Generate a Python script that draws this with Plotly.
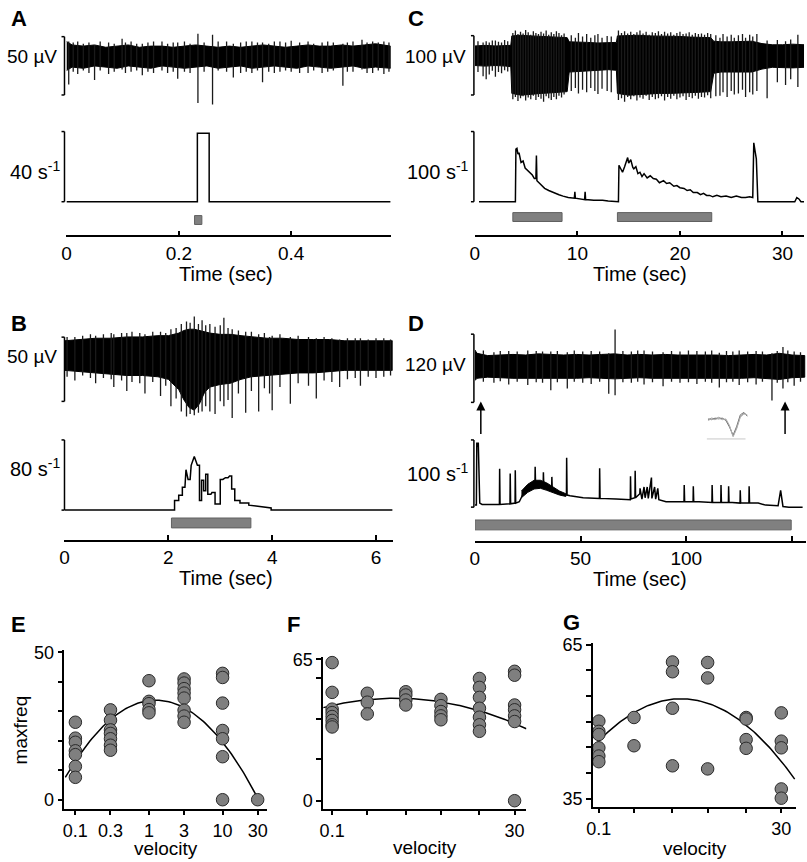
import numpy as np
import plotly.graph_objects as go

W, H = 807, 862
FONT = "Arial, 'Liberation Sans', Helvetica, sans-serif"


def fx(x):
    return x / W


def fy(y):
    return 1 - y / H


# ======================= DATA =======================
# ---- Panel A (time in s, trace in uV, rate in 1/s) ----
A_env_t = [0, 0.01, 0.03, 0.05, 0.07, 0.09, 0.11, 0.13, 0.15, 0.17, 0.19, 0.21, 0.23, 0.25, 0.27,
           0.29, 0.31, 0.33, 0.35, 0.37, 0.39, 0.41, 0.43, 0.45, 0.47, 0.49, 0.51, 0.53, 0.55, 0.577]
A_env_up = [12, 9, 8, 9, 7, 8, 9, 7, 8, 8, 7, 8, 9, 8, 7, 8, 7, 8, 9, 8, 7, 8, 9, 8, 8, 9, 8, 9, 10, 8]
A_env_lo = [-13, -10, -11, -9, -10, -11, -9, -10, -11, -9, -10, -11, -10, -9, -11, -10, -9, -11,
            -10, -9, -10, -11, -9, -10, -11, -10, -9, -11, -10, -11]
A_spk_t = [0.004, 0.012, 0.02, 0.03, 0.04, 0.05, 0.06, 0.075, 0.085, 0.099, 0.105, 0.115, 0.125,
           0.135, 0.145, 0.155, 0.17, 0.18, 0.19, 0.198, 0.21, 0.22, 0.234, 0.245, 0.26, 0.27,
           0.285, 0.297, 0.31, 0.32, 0.33, 0.34, 0.349, 0.36, 0.37, 0.38, 0.39, 0.40, 0.415, 0.43,
           0.44, 0.455, 0.465, 0.475, 0.492, 0.50, 0.51, 0.526, 0.535, 0.545, 0.555, 0.565, 0.574]
A_spk_lo = [-25, -14, -16, -13, -15, -21, -13, -16, -14, -12, -15, -14, -13,
            -17, -14, -15, -13, -15, -14, -20, -14, -15, -40.7, -14, -42, -13,
            -14, -19, -15, -14, -15, -13, -23, -14, -15, -14, -13, -14, -15, -15,
            -13, -15, -14, -13, -26, -14, -14, -12, -15, -15, -13, -16, -14]
A_spk_hi = [12, 11, 12, 10, 11, 9, 12, 11, 10, 14.4, 11, 12, 10,
            10, 11, 12, 12, 10, 11, 11, 12, 10, 18.6, 11, 17.8, 12,
            12, 10, 11, 12, 12, 11, 11, 10, 12, 12, 11, 12.5, 11, 12,
            10, 11, 12, 11, 10, 11, 12, 13.5, 11, 12, 11, 12, 11]
A_rate_t = [0, 0.233, 0.233, 0.254, 0.254, 0.577]
A_rate_r = [0, 0, 39, 39, 0, 0]
A_stim_on = [0.228]
A_stim_off = [0.241]
A_tickvals = [0, 0.2, 0.4]
A_ticktext = ["0", "0.2", "0.4"]

# ---- Panel B ----
B_env_t = [0, 0.3, 0.6, 0.9, 1.2, 1.5, 1.8, 2.0, 2.2, 2.3, 2.4, 2.5, 2.6, 2.7, 2.8, 3.0, 3.2, 3.4,
           3.6, 3.9, 4.2, 4.5, 4.8, 5.1, 5.4, 5.7, 6.0, 6.32]
B_env_up = [11, 12, 13, 13, 14, 14, 15, 15, 17, 19, 20, 20, 19, 18, 17, 16, 16, 15, 14, 13, 13, 12,
            12, 12, 11, 11, 11, 11]
B_env_lo = [-12, -13, -14, -15, -16, -16, -17, -19, -27, -35, -41, -43, -38, -29, -25, -23, -22, -19,
            -17, -16, -15, -14, -14, -13, -12, -12, -12, -12]
B_spk_t = [0.05, 0.2, 0.35, 0.5, 0.6, 0.75, 0.9, 0.95, 1.1, 1.2, 1.3, 1.45, 1.55, 1.7, 1.85, 1.95,
           2.05, 2.15, 2.25, 2.35, 2.42, 2.5, 2.58, 2.65, 2.72, 2.8, 2.9, 3.0, 3.07, 3.15, 3.23,
           3.35, 3.49, 3.6, 3.74, 3.85, 3.95, 4.0, 4.15, 4.35, 4.5, 4.7, 4.85, 5.0, 5.15, 5.3,
           5.45, 5.6, 5.7, 5.85, 6.0, 6.15, 6.28]
B_spk_lo = [-17, -20, -16, -18, -22, -18, -19, -25, -20, -28, -21, -22, -30, -21, -32, -24,
            -40, -34, -44, -48, -46, -47, -45, -44, -40, -44, -46, -36, -40, -35, -49,
            -30, -45, -28, -44, -26, -30, -43, -25, -38, -22, -24, -34, -20, -21, -25,
            -19, -18, -24, -17, -18, -17, -16]
B_spk_hi = [14, 14, 15, 16, 15, 16, 17, 16, 17, 17, 18, 17, 16, 18, 18, 17,
            20, 21, 24, 26, 25, 30, 24, 27, 23, 24, 22, 23, 29, 21, 20,
            19, 18, 18, 16, 17, 14, 15, 16, 14, 15, 14, 13, 14, 13, 12,
            13, 13, 13, 12, 13, 13, 12]
B_rate_t = [0, 2.12, 2.12, 2.2, 2.2, 2.27, 2.27, 2.32, 2.34, 2.38, 2.42, 2.44, 2.5, 2.56, 2.6, 2.6,
            2.64, 2.64, 2.68, 2.68, 2.72, 2.72, 2.76, 2.76, 2.82, 2.84, 2.9, 2.9, 3.0, 3.0, 3.05,
            3.1, 3.15, 3.18, 3.22, 3.22, 3.28, 3.28, 3.38, 3.38, 3.55, 3.55, 3.98, 3.98, 6.32]
B_rate_r = [0, 0, 11, 11, 17, 17, 26, 26, 46, 35, 35, 51, 61, 51, 51, 11,
            11, 34, 34, 22, 22, 41, 41, 18, 18, 20, 20, 7, 7, 35, 35,
            37, 37, 39, 39, 24, 24, 11, 11, 8, 8, 5.6, 2.5, 0, 0]
B_stim_on = [2.06]
B_stim_off = [3.59]
B_tickvals = [0, 2, 4, 6]
B_ticktext = ["0", "2", "4", "6"]

# ---- Panel C ----
C_env_t = [0, 1, 2, 3, 3.5, 3.6, 4.5, 5.5, 6.5, 7.5, 8.5, 9.0, 9.2, 10, 11, 12, 13, 13.8, 13.9, 15,
           16, 17, 18, 19, 20, 21, 22, 23, 23.3, 24, 25, 26, 27, 28, 29, 30, 31, 32.1]
C_env_up = [16, 17, 16, 17, 17, 33, 34, 33, 32, 31, 31, 30, 23, 22, 22, 21, 21, 22, 33, 34,
            34, 33, 33, 32, 32, 31, 31, 30, 24, 23, 23, 23, 24, 20, 18, 18, 19, 18]
C_env_lo = [-17, -18, -17, -18, -19, -64, -67, -65, -64, -63, -62, -61, -28, -26, -25, -25, -24, -25,
            -64, -67, -65, -65, -64, -64, -63, -63, -62, -61, -30, -28, -28, -28, -28, -23, -20, -20,
            -21, -20]
C_spk_t = [0.3, 0.8, 1.1, 1.4, 1.7, 2.0, 2.3, 2.6, 2.9, 3.2,
           3.7, 3.95, 4.2, 4.45, 4.7, 4.95, 5.2, 5.45, 5.7, 5.95, 6.2, 6.45, 6.7, 6.95, 7.2, 7.45,
           7.7, 7.95, 8.2, 8.45, 8.7,
           9.4, 9.8, 10.1, 10.5, 10.9, 11.3, 11.7, 12.0, 12.4, 12.9, 13.3,
           14.0, 14.3, 14.6, 14.9, 15.2, 15.5, 15.8, 16.1, 16.4, 16.7, 17.0, 17.3, 17.6, 17.9,
           18.2, 18.5, 18.8, 19.1, 19.4, 19.7, 20.0, 20.3, 20.6, 20.9, 21.2, 21.5, 21.8, 22.1,
           22.4, 22.7, 23.0,
           23.5, 23.9, 24.2, 24.6, 25.0, 25.3, 25.7, 26.1, 26.4, 26.8, 27.1, 27.5, 28.5, 29.5,
           30.3, 30.8, 31.5]
C_spk_lo = [-28, -35, -40, -32, -26, -36, -28, -30, -25, -27,
            -74, -70, -77, -72, -69, -76, -71, -74, -68, -75, -70, -73, -78, -69, -72, -75,
            -70, -74, -68, -71, -66,
            -60, -55, -64, -58, -62, -55, -60, -65, -56, -60, -62,
            -75, -72, -78, -70, -74, -69, -76, -71, -73, -68, -75, -70, -74, -72, -69,
            -76, -70, -73, -68, -74, -71, -69, -75, -70, -72, -68, -73, -70, -71,
            -67, -72, -69,
            -68, -62, -70, -60, -66, -64, -58, -70, -62, -66, -60, -72, -45, -50,
            -40, -53, -50]
C_spk_hi = [24, 22, 24, 22, 25, 25, 23, 22, 26, 24,
            38, 42, 36, 40, 37, 43, 39, 35, 41, 38, 36, 40, 37, 42, 35, 39,
            36, 41, 38, 34, 37,
            34, 30, 38, 32, 36, 30, 34, 36, 30, 33, 32,
            42, 38, 41, 37, 40, 36, 39, 42, 37, 40, 35, 39, 38, 41,
            36, 40, 37, 39, 35, 38, 40, 36, 37, 39, 35, 38, 36, 37,
            35, 38, 36,
            34, 30, 36, 32, 35, 30, 34, 36, 30, 35, 32, 36, 25, 26,
            24, 27, 35]
C_rate_t = [0.4, 3.95, 4.0, 4.1, 4.2, 4.3, 4.5, 4.7, 4.9, 5.2, 5.4, 5.6, 5.8, 5.95, 6.0, 6.05, 6.4,
            6.8, 7.2, 7.5, 7.8, 8.2, 8.6, 9.1, 9.7, 9.75, 9.8, 10.7, 10.75, 10.8, 11.6, 12.4, 12.45,
            13, 13.9, 14.0, 14.05, 14.3, 14.4, 14.6, 14.8, 14.9, 15.0, 15.2, 15.4, 15.5, 15.7, 15.9,
            16.1, 16.3, 16.5, 16.8, 17.1, 17.4, 17.7, 18.0, 18.4, 18.7, 19.0, 19.4, 19.7, 20.0,
            20.4, 20.7, 21.0, 21.3, 21.7, 22.0, 22.3, 22.6, 22.9, 23.2, 23.6, 24.0, 24.5, 25.0,
            25.5, 26.0, 26.4, 26.8, 27.1, 27.2, 27.35, 27.45, 27.6, 31.2, 31.4, 31.6, 31.8, 32.1]
C_rate_r = [0, 0, 75, 76, 68, 70, 56, 58, 48, 44, 40, 38, 33, 33, 66, 30, 25,
            19, 16, 14, 12, 10, 8, 6, 5, 14, 5, 3, 14, 3, 2, 3, 2,
            1, 0, 0, 52, 45, 42, 50, 58, 63, 55, 60, 49, 47, 50, 40,
            42, 36, 40, 34, 37, 33, 32, 27, 30, 26, 27, 22, 23, 20,
            19, 16, 17, 13, 13, 10, 12, 9, 9, 7, 9, 7, 8, 6,
            8, 6, 6, 7, 6, 84, 70, 61, 0, 0, 6, 4, 0, 0]
C_stim_on = [3.7, 13.9]
C_stim_off = [8.5, 23.1]
C_tickvals = [0, 10, 20, 30]
C_ticktext = ["0", "10", "20", "30"]

# ---- Panel D ----
D_env_t = [0, 1, 6, 12, 18, 24, 30, 36, 42, 48, 54, 60, 66, 72, 78, 84, 90, 96, 102, 108, 114,
           120, 126, 132, 138, 144, 150, 156]
D_env_up = [28, 22, 18, 19, 20, 19, 21, 20, 19, 20, 19, 20, 21, 19, 20, 19, 20, 19, 19, 20, 19,
            18, 19, 20, 19, 22, 19, 18]
D_env_lo = [-26, -22, -20, -21, -22, -23, -22, -23, -22, -22, -21, -22, -23, -22, -21, -22, -23,
            -22, -23, -22, -23, -22, -22, -21, -22, -24, -21, -20]
D_spk_t = [4, 9, 12, 16, 20, 25, 29, 32, 35.9, 39, 43.7, 47, 51, 55, 59, 63.3, 66.3, 70, 74, 77,
           80, 84, 89, 93, 97, 101, 105, 109, 112, 115.6, 119, 122, 125, 129, 133, 136, 140.5,
           143, 145.7, 148, 151, 154]
D_spk_lo = [-28, -30, -27, -33, -28, -34, -29, -30, -43, -29, -40, -28, -30, -32, -28, -49, -52,
            -29, -30, -28, -33, -29, -36, -28, -30, -29, -32, -28, -30, -38, -29, -28, -34, -29,
            -33, -28, -61, -30, -40, -29, -35, -28]
D_spk_hi = [27, 24, 26, 26, 25, 27, 26, 25, 25, 26, 24, 27, 25, 26, 25, 22, 64, 26, 25, 27,
            27, 25, 24, 26, 25, 27, 26, 25, 27, 23, 26, 25, 27, 25, 26, 25, 22, 26, 33, 27,
            25, 24]
D_rate_t = [0, 0.7, 0.9, 1.4, 1.6, 2.3, 3.4, 6, 8, 10.5, 11.6, 11.7, 11.9, 16.6, 16.7, 16.9, 19.0,
            19.1, 19.3, 21, 23, 24.6, 26, 28.4, 28.5, 28.7, 30, 32.3, 32.4, 32.6, 34, 36.3, 36.4,
            36.6, 38.7, 41, 43.3, 43.4, 43.6, 45, 51.2, 58.9, 59, 59.2, 66.8, 73, 73.5, 73.6, 73.8,
            75.7, 75.8, 76, 78, 78.1, 79, 80, 80.5, 81.5, 82, 83.5, 83.7, 85, 85.5, 86.5, 87, 88.8,
            90.4, 96, 98.9, 99, 99.2, 103.2, 103.3, 103.5, 106, 112.1, 112.2, 112.4, 116.3, 116.4,
            116.6, 119.9, 120, 120.2, 121.7, 125.4, 125.5, 125.7, 129.6, 129.7, 129.9, 134, 137.5,
            143.4, 144.6, 145.7, 148.5, 155]
D_rate_r = [3, 3, 96, 90, 96, 6, 4, 4, 3, 4, 4, 57, 4, 5, 50, 5, 6,
            55, 6, 8, 21, 28, 30, 32, 60, 33, 34, 31, 52, 30, 28, 26, 45,
            26, 21, 19, 18, 73.5, 18, 17, 14, 13, 58, 13, 12, 11, 11, 46, 12,
            14, 54, 14, 20, 28, 12, 30, 14, 30, 13, 44, 13, 30, 12, 28, 11, 10,
            8, 8, 8, 33, 8, 8, 31, 8, 8, 7, 33, 7, 7, 33,
            7, 7, 31, 7, 7, 6, 25, 6, 6, 31, 6, 6, 3,
            2, 25, 1, 0, 0]
D_rband_t = [22, 25, 28, 31, 34, 37, 40, 43]
D_rband_hi = [24, 34, 40, 40, 36, 30, 24, 20]
D_rband_lo = [14, 22, 27, 28, 25, 22, 18, 16]
D_stim_on = [0]
D_stim_off = [149.6]
D_tickvals = [0, 50, 100, 150]
D_ticktext = ["0", "50", "100", "150"]
D_arrow_t = [2.8, 146.7]
D_wave_1 = [0, 2, 1, 3, 1, 0, -8, -20, -10, 4, 8, 5]
D_wave_2 = [1, 0, 2, 1, 2, -1, -9, -19, -8, 6, 9, 4]
D_wave_3 = [-1, 1, 0, 2, 0, 1, -7, -21, -11, 3, 7, 6]

# ---- Panels E, F, G (velocity vs maxfreq) ----
velocities = [0.1, 0.3, 1, 3, 10, 30]
E_vals = [[26.3, 20.9, 19.5, 16.6, 15.3, 11.3, 7.6],
          [30.5, 27.0, 23.7, 22.5, 20.7, 18.5, 16.8],
          [40.4, 33.4, 32.6, 30.6, 29.5],
          [41.0, 39.6, 37.7, 36.2, 34.5, 30.4, 28.4, 26.3],
          [42.9, 41.5, 32.8, 23.5, 20.7, 14.6, 0],
          [0]]
F_vals = [[63.5, 49.8, 42.1, 40.5, 38.7, 36.9, 34.9, 33.9],
          [49.4, 45.3, 39.9],
          [50.1, 48.6, 46.3, 44.0],
          [66.8, 46.6, 43.7, 41.0, 39.0, 37.2],
          [56.2, 52.1, 47.5, 42.5, 38.4, 34.9, 31.9],
          [59.5, 57.7, 44.0, 41.8, 39.0, 36.4, 0]]
G_vals = [[50.1, 48.1, 47.5, 44.9, 43.3, 42.2],
          [50.8, 45.3],
          [61.6, 59.7, 52.6, 41.4],
          [61.5, 58.5, 40.8],
          [50.8, 50.5, 46.5, 44.8],
          [51.7, 46.2, 44.9, 36.9, 35.1]]
# quadratic fit in log10(velocity): a*L^2 + b*L + c, drawn over [L0, L1]
E_fit = [-17.32, 3.22, 33.65, -1.137, 1.52]
F_fit = [-4.451, -1.219, 47.03, -1.121, 1.637]
G_fit = [-6.561, 1.515, 54.35, -1.09, 1.659]

# ======================= FIGURE =======================
fig = go.Figure()
layout = {}
shapes = []
annotations = []


def ann(text, x, y, size=20, xanchor="center", yanchor="middle", bold=False, **kw):
    if bold:
        text = "<b>" + text + "</b>"
    annotations.append(dict(text=text, x=fx(x), y=fy(y), xref="paper", yref="paper",
                            showarrow=False, xanchor=xanchor, yanchor=yanchor,
                            font=dict(family=FONT, size=size, color="black"), **kw))


def scalebar(x, y0, y1, hook=3):
    for (xa, ya, xb, yb) in [(x, y0, x, y1), (x - hook, y0, x, y0), (x - hook, y1, x, y1)]:
        shapes.append(dict(type="line", xref="paper", yref="paper", x0=fx(xa), y0=fy(ya),
                           x1=fx(xb), y1=fy(yb), line=dict(color="black", width=1.5)))


def rec_panel(n, P):
    xt, yt = ("x%d" % n, "y%d" % n)
    xr, yr = ("x%d" % (n + 1), "y%d" % (n + 1))
    xdom = [fx(P["xl"]), fx(P["xr"])]
    rng = [0, P["xmax"]]
    c, s = P["tc"], P["ts"]
    layout["xaxis%d" % n] = dict(domain=xdom, range=rng, visible=False, anchor=yt)
    layout["yaxis%d" % n] = dict(domain=[fy(P["tb"]), fy(P["tt"])],
                                 range=[(c - P["tb"]) / s, (c - P["tt"]) / s],
                                 visible=False, anchor=xt)
    b, rs = P["rbase"], P["rs"]
    layout["xaxis%d" % (n + 1)] = dict(domain=xdom, range=rng, anchor="free",
                                       position=fy(P["axy"]), showline=True, linecolor="black",
                                       linewidth=1.5, ticks="inside", ticklen=5, tickwidth=1.5,
                                       tickcolor="black", tickvals=P["tickvals"],
                                       ticktext=P["ticktext"], showgrid=False, zeroline=False,
                                       tickfont=dict(family=FONT, size=19, color="black"))
    layout["yaxis%d" % (n + 1)] = dict(domain=[fy(P["rb"]), fy(P["rt"])],
                                       range=[(b - P["rb"]) / rs, (b - P["rt"]) / rs],
                                       visible=False, anchor=xr)
    t = list(P["env_t"])
    fig.add_trace(go.Scatter(x=t + t[::-1], y=list(P["env_up"]) + list(P["env_lo"])[::-1],
                             fill="toself", fillcolor="black", mode="lines",
                             line=dict(color="black", width=1), xaxis=xt, yaxis=yt,
                             hoverinfo="skip", showlegend=False))
    xs, ys = [], []
    for tt, lo, hi in zip(P["spk_t"], P["spk_lo"], P["spk_hi"]):
        xs += [tt, tt, None]
        ys += [lo, hi, None]
    fig.add_trace(go.Scatter(x=xs, y=ys, mode="lines", line=dict(color="#1a1a1a", width=1.3),
                             xaxis=xt, yaxis=yt, hoverinfo="skip", showlegend=False))
    fig.add_trace(go.Scatter(x=P["rate_t"], y=P["rate_r"], mode="lines",
                             line=dict(color="black", width=1.5), xaxis=xr, yaxis=yr,
                             hoverinfo="skip", showlegend=False))
    for on, off in zip(P["stim_on"], P["stim_off"]):
        shapes.append(dict(type="rect", xref=xr, yref="paper", x0=on, x1=off,
                           y0=fy(P["sb"][1]), y1=fy(P["sb"][0]), fillcolor="#808080",
                           line=dict(color="#606060", width=1)))
    scalebar(P["bar_x"], *P["tbar"])
    scalebar(P["bar_x"], *P["rbar"])


rec_panel(1, dict(xl=61, xr=388, xmax=0.577, tt=15, tb=108, tc=48, ts=1.18,
                  rt=118, rb=202, rbase=196, rs=1.775, axy=231,
                  tickvals=A_tickvals, ticktext=A_ticktext,
                  env_t=A_env_t, env_up=A_env_up, env_lo=A_env_lo,
                  spk_t=A_spk_t, spk_lo=A_spk_lo, spk_hi=A_spk_hi,
                  rate_t=A_rate_t, rate_r=A_rate_r, stim_on=A_stim_on, stim_off=A_stim_off,
                  sb=(210, 219), bar_x=59, tbar=(29, 88), rbar=(125, 196)))
rec_panel(3, dict(xl=59, xr=390, xmax=6.32, tt=303, tb=422, tc=351, ts=1.3,
                  rt=430, rb=512, rbase=508, rs=0.8875, axy=539,
                  tickvals=B_tickvals, ticktext=B_ticktext,
                  env_t=B_env_t, env_up=B_env_up, env_lo=B_env_lo,
                  spk_t=B_spk_t, spk_lo=B_spk_lo, spk_hi=B_spk_hi,
                  rate_t=B_rate_t, rate_r=B_rate_r, stim_on=B_stim_on, stim_off=B_stim_off,
                  sb=(516, 526), bar_x=59, tbar=(333, 398), rbar=(437, 508)))
rec_panel(5, dict(xl=473, xr=805, xmax=32.1, tt=15, tb=108, tc=48, ts=0.6,
                  rt=118, rb=202, rbase=196, rs=0.71, axy=231,
                  tickvals=C_tickvals, ticktext=C_ticktext,
                  env_t=C_env_t, env_up=C_env_up, env_lo=C_env_lo,
                  spk_t=C_spk_t, spk_lo=C_spk_lo, spk_hi=C_spk_hi,
                  rate_t=C_rate_t, rate_r=C_rate_r, stim_on=C_stim_on, stim_off=C_stim_off,
                  sb=(207, 216), bar_x=472, tbar=(28, 88), rbar=(125, 196)))
rec_panel(7, dict(xl=473, xr=807, xmax=156.6, tt=312, tb=405, tc=362, ts=0.575,
                  rt=430, rb=510, rbase=505, rs=0.68, axy=540,
                  tickvals=D_tickvals, ticktext=D_ticktext,
                  env_t=D_env_t, env_up=D_env_up, env_lo=D_env_lo,
                  spk_t=D_spk_t, spk_lo=D_spk_lo, spk_hi=D_spk_hi,
                  rate_t=D_rate_t, rate_r=D_rate_r, stim_on=D_stim_on, stim_off=D_stim_off,
                  sb=(518, 528), bar_x=472, tbar=(330, 399), rbar=(437, 505)))

fig.add_trace(go.Scatter(x=D_rband_t + D_rband_t[::-1], y=D_rband_hi + D_rband_lo[::-1],
                         fill="toself", fillcolor="black", mode="lines",
                         line=dict(color="black", width=1), xaxis="x8", yaxis="y8",
                         hoverinfo="skip", showlegend=False))
for t in D_arrow_t:
    annotations.append(dict(x=t, y=fy(398), xref="x8", yref="paper", ax=0, ay=34,
                            axref="pixel", ayref="pixel", showarrow=True, arrowhead=2,
                            arrowsize=1.2, arrowwidth=1.5, arrowcolor="black", text=""))
layout["xaxis12"] = dict(domain=[fx(708), fx(748)], range=[0, 11], visible=False, anchor="y12")
layout["yaxis12"] = dict(domain=[fy(438), fy(405)], range=[-26, 14], visible=False, anchor="x12")
for w, col in [(D_wave_1, "#9a9a9a"), (D_wave_2, "#777777"), (D_wave_3, "#b0b0b0")]:
    fig.add_trace(go.Scatter(x=list(range(len(w))), y=w, mode="lines",
                             line=dict(color=col, width=1), xaxis="x12", yaxis="y12",
                             hoverinfo="skip", showlegend=False))
shapes.append(dict(type="line", xref="paper", yref="paper", x0=fx(707), x1=fx(746),
                   y0=fy(436), y1=fy(436), line=dict(color="#c8c8c8", width=1)))


def scat_panel(n, vals, fit, xdom, xr, ydom, yr, ytickvals, yticktext, xtickvals, xticktext):
    xa, ya = "x%d" % n, "y%d" % n
    ax_common = dict(showline=True, linecolor="black", linewidth=1.5, ticks="outside",
                     ticklen=5, tickwidth=1.5, tickcolor="black", showgrid=False,
                     zeroline=False, tickfont=dict(family=FONT, size=18, color="black"))
    layout["xaxis%d" % n] = dict(domain=[fx(xdom[0]), fx(xdom[1])], type="log", range=xr,
                                 anchor=ya, tickvals=xtickvals, ticktext=xticktext, **ax_common)
    layout["yaxis%d" % n] = dict(domain=[fy(ydom[1]), fy(ydom[0])], range=yr, anchor=xa,
                                 tickvals=ytickvals, ticktext=yticktext, **ax_common)
    xs, ys = [], []
    for v, group in zip(velocities, vals):
        xs += [v] * len(group)
        ys += group
    a, b, c, L0, L1 = fit
    L = np.linspace(L0, L1, 120)
    fig.add_trace(go.Scatter(x=10 ** L, y=a * L ** 2 + b * L + c, mode="lines",
                             line=dict(color="black", width=1.5), xaxis=xa, yaxis=ya,
                             hoverinfo="skip", showlegend=False, cliponaxis=False))
    fig.add_trace(go.Scatter(x=xs, y=ys, mode="markers", cliponaxis=False,
                             marker=dict(size=12.5, color="#7f7f7f",
                                         line=dict(color="#2a2a2a", width=1)),
                             xaxis=xa, yaxis=ya, hoverinfo="skip", showlegend=False))


vel_text_all = ["0.1", "0.3", "1", "3", "10", "30"]
vel_text_ends = ["0.1", "", "", "", "", "30"]
scat_panel(9, E_vals, E_fit, (59, 263), [-1.148, 1.60], (650, 810), [-3.02, 50.67],
           [0, 10, 20, 30, 40, 50], ["0", "", "", "", "", "50"], velocities, vel_text_all)
scat_panel(10, F_vals, F_fit, (320, 525), [-1.121, 1.638], (657, 810), [-3.64, 65.9],
           [0, 19.1, 37.7, 56.4, 65], ["0", "", "", "", "65"], velocities, vel_text_ends)
scat_panel(11, G_vals, G_fit, (592, 797), [-1.081, 1.678], (642, 808), [33.46, 65.38],
           [35, 40, 45, 50, 55, 60, 65], ["35", "", "", "", "", "", "65"], velocities,
           vel_text_ends)

ann("A", 3, 11, size=22, xanchor="left", bold=True)
ann("B", 3, 319, size=22, xanchor="left", bold=True)
ann("C", 403, 11, size=22, xanchor="left", bold=True)
ann("D", 403, 319, size=22, xanchor="left", bold=True)
ann("E", 3, 624, size=22, xanchor="left", bold=True)
ann("F", 281, 624, size=22, xanchor="left", bold=True)
ann("G", 560, 622, size=22, xanchor="left", bold=True)

ann("50 µV", 53, 49, size=19, xanchor="right")
ann("40 s<sup>-1</sup>", 56, 164, size=20, xanchor="right")
ann("50 µV", 53, 353, size=19, xanchor="right")
ann("80 s<sup>-1</sup>", 56, 465, size=20, xanchor="right")
ann("100 µV", 466, 49, size=19, xanchor="right")
ann("100 s<sup>-1</sup>", 469, 164, size=20, xanchor="right")
ann("120 µV", 466, 361, size=19, xanchor="right")
ann("100 s<sup>-1</sup>", 469, 470, size=20, xanchor="right")

ann("Time (sec)", 222, 269)
ann("Time (sec)", 222, 577)
ann("Time (sec)", 640, 269)
ann("Time (sec)", 640, 578)

ann("maxfreq", 15, 730, size=19, textangle=-90)
ann("velocity", 161, 850, size=19)
ann("velocity", 423, 849, size=19)
ann("velocity", 695, 850, size=19)

layout.update(dict(width=W, height=H, autosize=False, margin=dict(l=0, r=0, t=0, b=0),
                   paper_bgcolor="white", plot_bgcolor="white", showlegend=False,
                   shapes=shapes, annotations=annotations,
                   font=dict(family=FONT, color="black")))
fig.update_layout(**layout)
fig.write_html("out.html", config={"displayModeBar": False},
               post_script="document.body.style.margin='0';document.body.style.padding='0';"
                           "document.body.style.overflow='hidden';")
